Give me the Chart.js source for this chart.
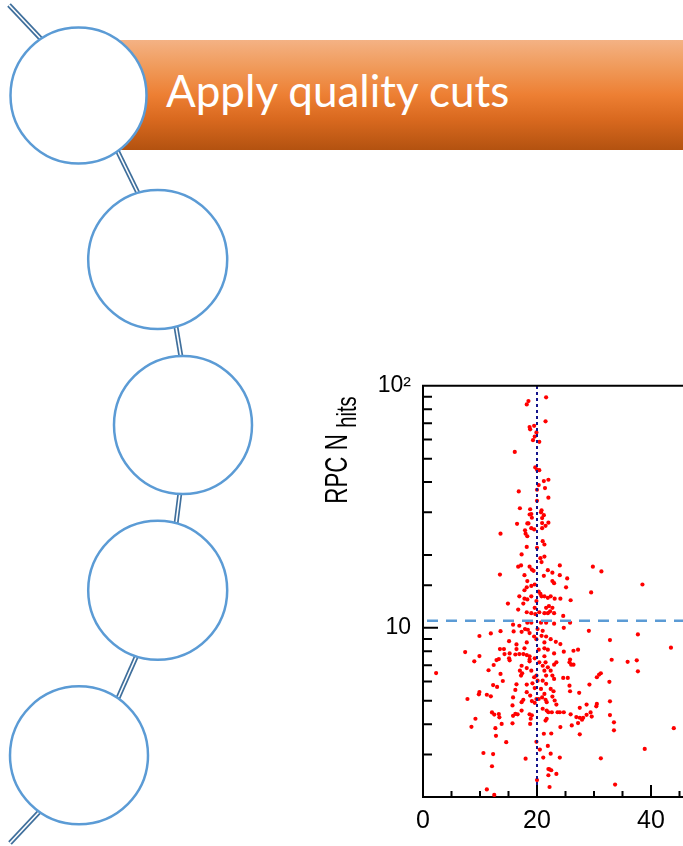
<!DOCTYPE html>
<html><head><meta charset="utf-8">
<script src="https://cdn.jsdelivr.net/npm/chart.js@4.4.1/dist/chart.umd.min.js"></script>
<style>
html,body{margin:0;padding:0;width:683px;height:846px;overflow:hidden;background:#fff;position:relative;}
#banner{position:absolute;left:78px;top:40px;width:605px;height:110px;
 background:linear-gradient(#f4b284 0%,#f09a5a 25%,#ed7f33 50%,#d9691f 72%,#b35210 100%);}
#bannerText{position:absolute;left:166px;top:40px;height:110px;line-height:100px;color:#fff;
 font-family:Lato,'Open Sans',sans-serif;font-weight:400;font-size:44px;white-space:nowrap;}
#deco{position:absolute;left:0;top:0;}
#chartWrap{position:absolute;left:300px;top:360px;width:417px;height:486px;}
#ytitle{position:absolute;left:237px;top:430px;width:200px;height:40px;line-height:40px;text-align:center;
 font-family:'Liberation Sans',Arial,sans-serif;font-size:31px;color:#000;white-space:nowrap;
 transform:rotate(-90deg) scaleX(0.72);}
#ytitle sub{font-size:28px;vertical-align:-9px;margin-left:9px;}
</style>
</head>
<body>
<div id="banner"></div>
<div id="bannerText">Apply quality cuts</div>
<svg id="deco" width="683" height="846" viewBox="0 0 683 846">
 <g stroke-linecap="butt">
  <g>
   <line x1="9" y1="5" x2="42" y2="40" stroke="#3f6f9c" stroke-width="5"/>
   <line x1="9" y1="5" x2="42" y2="40" stroke="#fff" stroke-width="1.6"/>
   <line x1="116" y1="148" x2="138" y2="193" stroke="#3f6f9c" stroke-width="5"/>
   <line x1="116" y1="148" x2="138" y2="193" stroke="#fff" stroke-width="1.6"/>
   <line x1="176" y1="327" x2="181" y2="357" stroke="#3f6f9c" stroke-width="5"/>
   <line x1="176" y1="327" x2="181" y2="357" stroke="#fff" stroke-width="1.6"/>
   <line x1="180" y1="492" x2="176" y2="524" stroke="#3f6f9c" stroke-width="5"/>
   <line x1="180" y1="492" x2="176" y2="524" stroke="#fff" stroke-width="1.6"/>
   <line x1="137" y1="655" x2="118" y2="698" stroke="#3f6f9c" stroke-width="5"/>
   <line x1="137" y1="655" x2="118" y2="698" stroke="#fff" stroke-width="1.6"/>
   <line x1="40" y1="811" x2="10" y2="843" stroke="#3f6f9c" stroke-width="5"/>
   <line x1="40" y1="811" x2="10" y2="843" stroke="#fff" stroke-width="1.6"/>
  </g>
  <g fill="#fff" stroke="#5b9bd5" stroke-width="2.5">
   <circle cx="78.5" cy="95.5" r="68"/>
   <circle cx="157.7" cy="259.5" r="69.5"/>
   <circle cx="183" cy="425" r="69"/>
   <circle cx="157.7" cy="590.3" r="69.5"/>
   <circle cx="79" cy="755.3" r="69"/>
  </g>
 </g>
</svg>
<div id="chartWrap"><canvas id="c" width="417" height="486"></canvas></div>
<div id="ytitle">RPC N<sub>hits</sub></div>
<script>
// ---- data ----
const xRange = [0, 50];
const yRange = [2, 100];
const xCut = 20;      // vertical dotted cut line
const yCut = 10.7;    // horizontal dashed cut line
const xTickLabels = {0: '0', 20: '20', 40: '40'};
const yTickLabels = {10: '10', 100: '10\u00B2'};
const xMajorTicks = [0, 20, 40];
const yMajorTicks = [10, 100];

const hitsX = [
 21.6,18.5,18.2,21.5,18.7,19.5,18.8,19.9,19.6,19.3,20.4,16.1,19.7,20.0,20.4,22.0,21.2,20.3,21.4,16.8,20.0,22.0,20.0,17.0,18.8,20.8,20.7,18.7,19.0,21.2,19.1,20.9,16.5,18.3,18.5,20.9,22.0,21.5,19.0,17.9,19.5,20.9,
 13.6,13.5,14.9,15.8,15.9,11.9,9.9,13.6,15.1,16.4,7.4,13.5,14.2,15.2,16.4,9.9,14.3,16.2,15.1,15.2,13.3,12.9,9.0,12.4,
 29.8,31.3,38.5,29.5,37.7,32.8,43.5,33.1,35.9,37.5,
 37.7,31.2,30.9,30.5,32.7,32.8,30.5,30.4,29.4,29.6,32.8,33.5,33.5,44.0,38.9,31.2,33.7,
 11.5,13.6,2.3,14.0,12.3,13.0,16.4,16.2,7.8,9.9,9.8,11.2,11.9,15.8,12.1,12.5,13.3,13.4,15.8,9.2,13.8,15.7,8.5,12.7,12.8,14.6,10.6,12.3,12.1,11.2,12.5,
 17.3,18.2,18.7,20.4,21.0,21.5,21.9,23.0,23.4,25.7,26.0,26.4,
 17.0,17.4,17.2,19.0,19.5,19.9,21.3,22.4,21.6,22.7,23.0,24.6,25.4,
 18.2,19.2,20.1,21.0,21.6,20.7,22.4,22.9,19.6,21.3,18.2,
 17.6,17.3,18.8,19.1,19.6,19.9,20.3,20.9,21.5,21.7,22.7,23.1,23.4,
 25.7,25.8,27.4,29.2,
 15.7,16.2,16.6,17.3,18.7,18.9,19.1,21.0,21.7,22.0,22.6,23.6,24.0,24.7,25.9,26.9,27.5,28.7,28.7,27.5,27.9,28.1,26.1,27.2,24.1,21.5,21.7,18.8,
 19.9,21.2,22.5,27.5,20.5,21.9,22.4,21.1,18.0,24.0,22.0,22.5,22.2,22.0,23.4,20.0,22.2,
 18.0,18.3,21.0,21.3,18.2,20.0,17.3,21.3,20.6,20.8,16.7,17.2,18.7,19.1,19.4,21.9,22.7,24.0,24.0,25.3,17.8,21.2,
 18.3,19.0,18.2,19.6,17.8,22.7,23.0,25.1,20.3,20.6,20.8,21.3,19.0,16.9,17.8,18.3,17.6,19.9,21.9,22.4,23.1,24.1,25.9,
 21.6,22.1,22.7,22.3,19.6,16.7,18.2,19.0,19.7,20.4,21.3,21.9,23.0,24.6,
 16.9,18.3,19.0,20.7,21.6,23.0,25.8,17.9,18.4,17.3,18.7,20.1,21.0,24.7,29.1,
 19.5,20.8,21.6,22.4,23.3,18.2,19.9,21.3,24.1,17.8,20.3,21.3,21.9,24.7,26.4,27.2,
 16.9,17.6,18.2,18.7,19.6,21.3,23.0,18.7,25.8
];
const hitsY = [
 89.6,86.5,83.8,71.3,67.5,68.3,66.1,64.2,61.7,59.6,58.7,53.3,46.0,45.0,44.8,40.9,40.4,38.9,37.8,36.6,37.2,34.5,33.5,31.2,30.9,30.6,30.0,29.4,29.5,29.2,28.5,28.4,26.9,27.0,27.0,27.1,27.2,26.4,25.8,25.3,25.5,25.8,
 24.5,16.6,12.6,10.3,9.66,9.48,9.25,9.69,8.81,8.54,7.94,8.17,8.17,7.84,8.17,7.64,7.79,7.76,7.48,7.34,7.43,7.36,7.27,7.02,
 17.9,17.1,15.1,14.0,9.39,8.9,8.28,7.38,7.24,7.34,
 6.61,6.49,6.41,6.25,5.98,4.97,4.85,4.74,4.47,4.30,4.36,4.07,3.77,3.85,3.16,2.89,2.25,
 6.68,6.45,6.50,6.03,5.80,5.70,5.84,5.54,5.08,5.43,5.31,5.29,5.21,5.16,4.47,4.38,4.40,4.27,4.33,4.21,4.01,4.03,3.90,3.85,3.58,3.37,3.04,3.01,2.68,2.15,2.04,
 6.97,6.82,7.27,7.20,6.97,7.20,6.87,7.04,7.20,7.20,7.04,7.04,
 6.65,6.49,6.35,6.65,6.25,6.35,6.65,6.65,6.35,6.35,6.15,6.21,6.21,
 5.83,5.90,6.05,6.05,5.87,5.59,5.59,5.47,5.64,5.33,5.42,
 5.04,4.93,5.25,4.98,4.90,5.08,5.08,5.16,5.04,4.93,5.20,5.01,4.82,
 5.77,5.47,5.39,5.83,
 4.78,4.41,4.39,4.55,4.39,4.21,4.35,4.63,4.55,4.48,4.48,4.48,4.48,4.48,4.39,4.28,4.67,4.82,4.37,4.25,4.17,4.25,3.95,4.04,3.89,4.14,4.21,4.01,
 3.38,3.65,3.66,3.63,3.14,3.25,3.02,2.91,2.88,2.91,2.61,2.58,2.60,2.46,2.49,2.35,2.20,
 24.5,23.9,22.8,22.1,21.6,21.4,20.1,19.7,19.4,18.7,17.9,18.1,17.9,17.4,17.2,17.3,16.9,18.1,16.5,16.0,16.5,16.4,
 15.6,14.9,14.7,15.1,14.3,15.6,15.3,14.7,14.1,13.8,13.5,13.5,13.5,13.5,13.2,13.1,12.6,12.9,13.3,13.5,13.2,13.2,13.0,
 12.1,12.3,12.1,11.7,12.1,11.9,11.6,11.5,11.4,11.6,11.5,11.5,11.5,11.2,
 10.2,10.5,10.5,10.5,10.5,10.4,10.5,9.88,9.82,9.63,9.51,9.88,9.72,10.0,9.72,
 9.21,9.27,9.21,8.98,8.75,8.70,8.98,8.70,8.57,8.23,8.12,8.23,8.12,7.97,8.04,8.12,
 7.79,7.79,7.72,7.63,7.48,7.63,7.84,7.39,7.39
];

const points = hitsX.map((x, i) => ({x: x, y: hitsY[i]}));

function lookup(map, v) {
  const k = Math.round(v * 1000) / 1000;
  return map[k] !== undefined ? map[k] : '';
}

const innerTicks = {
  id: 'innerTicks',
  afterDraw(chart) {
    const {ctx, chartArea: a, scales} = chart;
    ctx.save();
    ctx.strokeStyle = '#000';
    ctx.lineWidth = 2;
    ctx.beginPath();
    ctx.moveTo(a.left - 1, a.top);
    ctx.lineTo(a.right, a.top);
    const ys = scales.y;
    ys.ticks.forEach(t => {
      if (Math.abs(t.value - yRange[0]) < 1e-6) return;
      const p = ys.getPixelForValue(t.value);
      const major = yMajorTicks.some(m => Math.abs(m - t.value) < 1e-6);
      const len = major ? 15 : 9;
      ctx.moveTo(a.left, p);
      ctx.lineTo(a.left + len, p);
    });
    const xs = scales.x;
    xs.ticks.forEach(t => {
      if (Math.abs(t.value - xRange[0]) < 1e-6) return;
      const p = xs.getPixelForValue(t.value);
      const major = xMajorTicks.includes(t.value);
      const len = major ? 12 : 6;
      ctx.moveTo(p, a.bottom);
      ctx.lineTo(p, a.bottom - len);
    });
    ctx.stroke();
    ctx.restore();
  }
};

new Chart(document.getElementById('c'), {
  data: {
    datasets: [
      {
        type: 'line',
        label: 'x cut',
        data: [{x: xCut, y: yRange[0]}, {x: xCut, y: yRange[1]}],
        borderColor: '#14148c',
        borderWidth: 2,
        borderDash: [3, 3],
        pointRadius: 0,
        fill: false,
        order: 0
      },
      {
        type: 'line',
        label: 'y cut',
        data: [{x: xRange[0], y: yCut}, {x: xRange[1], y: yCut}],
        borderColor: '#5b9bd5',
        borderWidth: 2.5,
        borderDash: [11, 8],
        borderDashOffset: 15,
        pointRadius: 0,
        fill: false,
        order: 1
      },
      {
        type: 'scatter',
        label: 'events',
        data: points,
        pointRadius: 2.1,
        pointBackgroundColor: '#ff0000',
        pointBorderWidth: 0,
        pointBorderColor: '#ff0000',
        order: 2
      }
    ]
  },
  options: {
    responsive: false,
    animation: false,
    layout: {padding: {top: 23, left: 0, right: 0, bottom: 0}},
    plugins: {legend: {display: false}, tooltip: {enabled: false}},
    scales: {
      x: {
        type: 'linear',
        position: 'bottom',
        min: xRange[0], max: xRange[1],
        grid: {display: false, drawTicks: false},
        border: {display: true, color: '#000', width: 2},
        ticks: {
          stepSize: 5, autoSkip: false, maxRotation: 0, padding: 9, color: '#000',
          font: {family: "'Liberation Sans', Arial, sans-serif", size: 25},
          callback: v => lookup(xTickLabels, v)
        },
        afterFit(s) { s.height = 49; }
      },
      y: {
        type: 'logarithmic',
        position: 'left',
        min: yRange[0], max: yRange[1],
        grid: {display: false, drawTicks: false},
        border: {display: true, color: '#000', width: 2},
        ticks: {
          autoSkip: false, padding: 12, color: '#000',
          font: {family: "'Liberation Sans', Arial, sans-serif", size: 23},
          callback: v => lookup(yTickLabels, v)
        },
        afterFit(s) { s.width = 123; }
      }
    }
  },
  plugins: [innerTicks]
});
</script>
</body></html>
